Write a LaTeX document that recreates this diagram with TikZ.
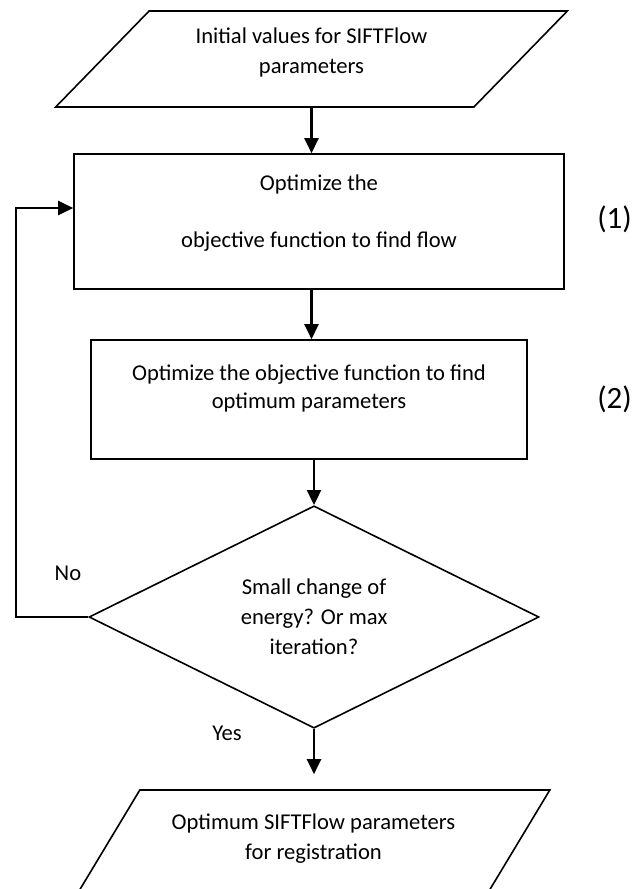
\documentclass[tikz,border=0pt]{standalone}
\usepackage{fontspec}
\setmainfont{Carlito}
\usetikzlibrary{shapes.geometric,arrows.meta}
\tikzset{
  iobox/.style={draw, line width=1.6pt, trapezium, trapezium stretches=true, inner sep=0pt, align=center},
  procbox/.style={draw, line width=1.6pt, rectangle, inner sep=0pt, align=center},
  decbox/.style={draw, line width=1.6pt, diamond, inner sep=0pt, align=center},
  steplabel/.style={font=\fontsize{31}{38}\selectfont},
  flowarrow/.style={line width=2.2pt, -{Triangle[length=15pt,width=14pt]}}
}
\begin{document}
\begin{tikzpicture}[x=1pt, y=-1pt, font=\fontsize{22.6}{30}\selectfont]
\useasboundingbox (0,0) rectangle (643,889);
\node[iobox, trapezium left angle=43, trapezium right angle=137, minimum width=513pt, minimum height=96pt, text depth=16.5pt] (init) at (311.5,59) {Initial values for SIFTFlow\\parameters};
\node[procbox, minimum width=490pt, minimum height=135pt, text depth=20.5pt] (opt1) at (319,221.5) {Optimize the\\[27pt]objective function to find flow};
\node[procbox, minimum width=436pt, minimum height=119pt, text depth=26.5pt] (opt2) at (309,399.5) {Optimize the objective function to find\\[-2pt]optimum parameters};
\node[decbox, minimum width=450pt, minimum height=215pt] (check) at (314,617) {Small change of\\energy? Or max\\iteration?};
\node[iobox, trapezium left angle=47.7, trapezium right angle=132.3, minimum width=475pt, minimum height=104pt, text depth=10.5pt] (final) at (313.5,842) {Optimum SIFTFlow parameters\\for registration};
% labels
\node (no) at (68,573) {No};
\node (yes) at (227,733) {Yes};
\node[steplabel] (one) at (614.5,219) {(1)};
\node[steplabel] (two) at (614.5,399) {(2)};
% arrows
\draw[flowarrow] (init.south) -- (init.south |- opt1.north);
\draw[flowarrow] (init.south |- opt1.south) -- (init.south |- opt2.north);
\draw[flowarrow] (check.north |- opt2.south) -- (check.north);
\draw[flowarrow, shorten >=15pt] (check.south) -- (check.south |- final.north);
\draw[flowarrow] (check.west) -- ++(-72,0) |- ([yshift=13.5pt]opt1.west);
\end{tikzpicture}
\end{document}
